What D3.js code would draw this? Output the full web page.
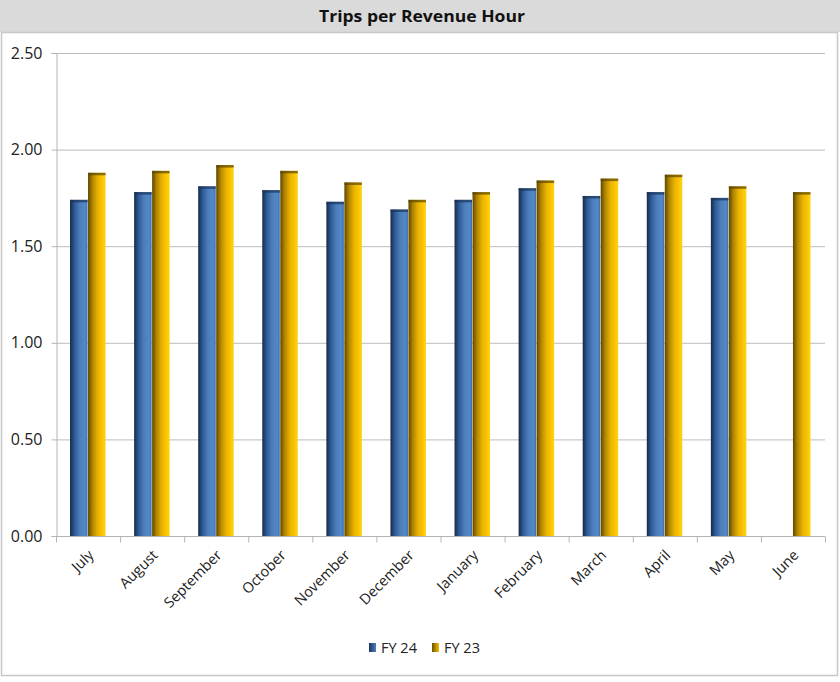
<!DOCTYPE html>
<html>
<head>
<meta charset="utf-8">
<script src="https://cdn.jsdelivr.net/npm/d3@7"></script>
<style>
  html, body { margin: 0; padding: 0; background: #fff; }
  svg { display: block; }
</style>
</head>
<body>
<svg id="chart" width="840" height="682"></svg>
<script>
// Monthly trips per revenue hour, fiscal years 24 and 23
const months = ["July", "August", "September", "October", "November", "December",
                "January", "February", "March", "April", "May", "June"];
const fy24 = [1.74, 1.78, 1.81, 1.79, 1.73, 1.69, 1.74, 1.80, 1.76, 1.78, 1.75, null];
const fy23 = [1.88, 1.89, 1.92, 1.89, 1.83, 1.74, 1.78, 1.84, 1.85, 1.87, 1.81, 1.78];
const yTicks = [0, 0.5, 1.0, 1.5, 2.0, 2.5];
const seriesNames = ["FY 24", "FY 23"];

const W = 840, H = 682;
const svg = d3.select("#chart");
const font = "'Open Sans', 'Liberation Sans', sans-serif";

// gradients giving the bars their rounded, lit look
const defs = svg.append("defs");
function grad(id, stops) {
  const g = defs.append("linearGradient").attr("id", id)
    .attr("x1", "0%").attr("x2", "100%").attr("y1", "0%").attr("y2", "0%");
  stops.forEach(([o, c]) => g.append("stop").attr("offset", o).attr("stop-color", c));
}
grad("gBlue", [["0%", "#14294a"], ["25%", "#2f5a92"], ["55%", "#4a7dbb"], ["85%", "#5589c6"], ["100%", "#3f6ea8"]]);
grad("gGold", [["0%", "#5e4600"], ["25%", "#b08500"], ["55%", "#e8b200"], ["85%", "#fcc800"], ["100%", "#ffd21a"]]);
grad("gBlueL", [["0%", "#1a3560"], ["100%", "#4f81bd"]]);
grad("gGoldL", [["0%", "#6e5300"], ["100%", "#f2c000"]]);

// title strip
svg.append("rect").attr("x", 0).attr("y", 0).attr("width", W).attr("height", 32).attr("fill", "#dadada");
svg.append("text").attr("x", 422).attr("y", 22).attr("text-anchor", "middle")
  .attr("font-family", font).attr("font-weight", "bold").attr("font-size", 16)
  .attr("textLength", 206).attr("lengthAdjust", "spacingAndGlyphs")
  .attr("fill", "#111").text("Trips per Revenue Hour");

// outer chart frame
svg.append("rect").attr("x", 1.5).attr("y", 32.5).attr("width", 836).attr("height", 643)
  .attr("fill", "#fff").attr("stroke", "#c8c8c8").attr("stroke-width", 1.5);

const m = { left: 56, right: 825, top: 53, bottom: 536 };
const x = d3.scaleBand().domain(months).range([m.left, m.right]).paddingInner(0).paddingOuter(0);
const y = d3.scaleLinear().domain([0, 2.5]).range([m.bottom, m.top]);

// horizontal gridlines
svg.append("g").selectAll("line").data(yTicks.filter(d => d > 0)).join("line")
  .attr("x1", m.left).attr("x2", m.right)
  .attr("y1", d => y(d) + 0.5).attr("y2", d => y(d) + 0.5)
  .attr("stroke", "#bdbdbd").attr("stroke-width", 1);

// y axis
const yAxis = svg.append("g").attr("transform", `translate(${m.left + 0.5},0)`)
  .call(d3.axisLeft(y).tickValues(yTicks).tickFormat(d3.format(".2f")).tickSize(5).tickPadding(9));
yAxis.select(".domain").attr("stroke", "#b5b5b5");
yAxis.selectAll(".tick line").attr("stroke", "#b5b5b5");
yAxis.selectAll("text").attr("font-family", font).attr("font-size", 16).attr("fill", "#222");

// bars
const barW = 17.5;
const seriesData = [fy24, fy23];
const fills = ["url(#gBlue)", "url(#gGold)"];
const caps = ["#1b3357", "#5a4500"];
seriesData.forEach((vals, si) => {
  const xs = i => x(months[i]) + x.bandwidth() / 2 - barW + si * (barW + 0.5) - 0.5;
  const data = vals.map((v, i) => ({ v, i })).filter(d => d.v != null);
  svg.append("g").selectAll("rect").data(data).join("rect")
    .attr("x", d => xs(d.i)).attr("width", barW)
    .attr("y", d => y(d.v)).attr("height", d => y(0) - y(d.v))
    .attr("fill", fills[si]);
  // darker top edge
  svg.append("g").selectAll("rect").data(data).join("rect")
    .attr("x", d => xs(d.i)).attr("width", barW)
    .attr("y", d => y(d.v)).attr("height", 2.5)
    .attr("fill", caps[si]).attr("opacity", 0.7);
});

// x axis with ticks at category boundaries
const xAxisG = svg.append("g").attr("transform", `translate(0,${m.bottom + 0.5})`);
xAxisG.append("line").attr("x1", m.left).attr("x2", m.right).attr("stroke", "#b5b5b5");
const bounds = months.map(mn => x(mn)).concat([m.right]);
xAxisG.selectAll("line.tk").data(bounds).join("line").attr("class", "tk")
  .attr("x1", d => d + 0.5).attr("x2", d => d + 0.5).attr("y1", 0).attr("y2", 6)
  .attr("stroke", "#b5b5b5");
xAxisG.selectAll("text").data(months).join("text")
  .attr("transform", d => `translate(${x(d) + x.bandwidth() / 2 + 3},${16}) rotate(-45)`)
  .attr("text-anchor", "end").attr("dy", "0.35em")
  .attr("font-family", font).attr("font-size", 14.5).attr("fill", "#222")
  .text(d => d);

// legend
const legend = svg.append("g").attr("transform", "translate(369,643)");
const lx = [0, 63];
seriesNames.forEach((n, i) => {
  legend.append("rect").attr("x", lx[i]).attr("y", 0).attr("width", 7).attr("height", 9)
    .attr("fill", i === 0 ? "url(#gBlueL)" : "url(#gGoldL)");
  legend.append("text").attr("x", lx[i] + 12).attr("y", 5).attr("dy", "0.35em")
    .attr("font-family", font).attr("font-size", 14.5).attr("fill", "#222").text(n);
});
</script>
</body>
</html>
